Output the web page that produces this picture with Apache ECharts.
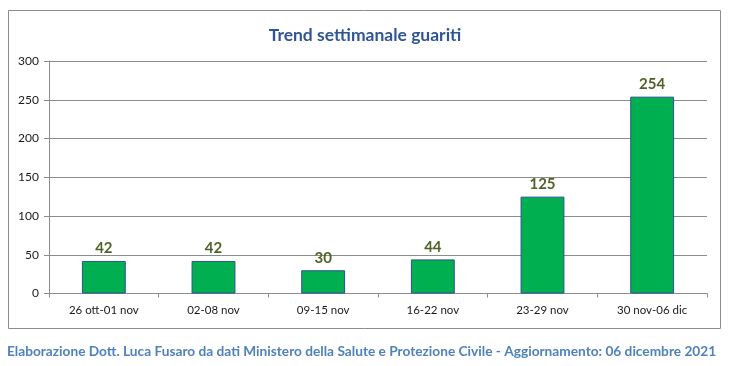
<!DOCTYPE html>
<html><head><meta charset="utf-8">
<script src="https://cdn.jsdelivr.net/npm/echarts@6/dist/echarts.min.js"></script>
<style>html,body{margin:0;padding:0;background:#fff}#c{width:730px;height:366px}</style>
</head><body><div id="c"></div>
<script>
const categories = ['26 ott-01 nov','02-08 nov','09-15 nov','16-22 nov','23-29 nov','30 nov-06 dic'];
const values = [42, 42, 30, 44, 125, 254];
const yTicks = [0, 50, 100, 150, 200, 250, 300];
const titleText = 'Trend settimanale guariti';
const footerText = 'Elaborazione Dott. Luca Fusaro da dati Ministero della Salute e Protezione Civile - Aggiornamento: 06 dicembre 2021';

const chart = echarts.init(document.getElementById('c'), null, {renderer:'canvas'});
chart.setOption({
  animation:false,
  backgroundColor:'#fff',
  textStyle:{fontFamily:'Lato'},
  title:{text:titleText,left:'center',top:21,textStyle:{fontFamily:'Lato',fontWeight:'bold',fontSize:17.5,color:'#2F5597'}},
  graphic:[
    {type:'rect',shape:{x:8.5,y:10.5,width:712,height:318},style:{fill:null,stroke:'#8c8c8c',lineWidth:1},z:-1},
    {type:'text',left:7,top:345,style:{text:footerText,font:'bold 13.7px Lato',fill:'#4F81BD'}}
  ],
  grid:{left:49,right:23,top:61,bottom:72.5,containLabel:false},
  xAxis:{type:'category',data:categories,
    axisLine:{lineStyle:{color:'#8c8c8c'}},
    axisTick:{show:true,alignWithLabel:false,length:4,lineStyle:{color:'#8c8c8c'}},
    axisLabel:{color:'#1a1a1a',fontSize:11.5,margin:11,fontFamily:'Lato'}},
  yAxis:{type:'value',min:0,max:300,interval:50,
    axisLine:{show:true,lineStyle:{color:'#8c8c8c'}},
    axisTick:{show:true,length:5,inside:false,lineStyle:{color:'#8c8c8c'}},
    splitLine:{lineStyle:{color:'#8c8c8c'}},
    axisLabel:{color:'#1a1a1a',fontSize:12,margin:10,fontFamily:'Lato',
      formatter:v=>yTicks.includes(v)?String(v):''}},
  series:[{type:'bar',data:values,barWidth:'40%',
    itemStyle:{color:'#00B050',borderColor:'#2F4F8F',borderWidth:1},
    label:{show:true,position:'top',distance:5,color:'#4F6228',fontWeight:'bold',fontSize:15,fontFamily:'Lato'}}]
});
</script></body></html>
